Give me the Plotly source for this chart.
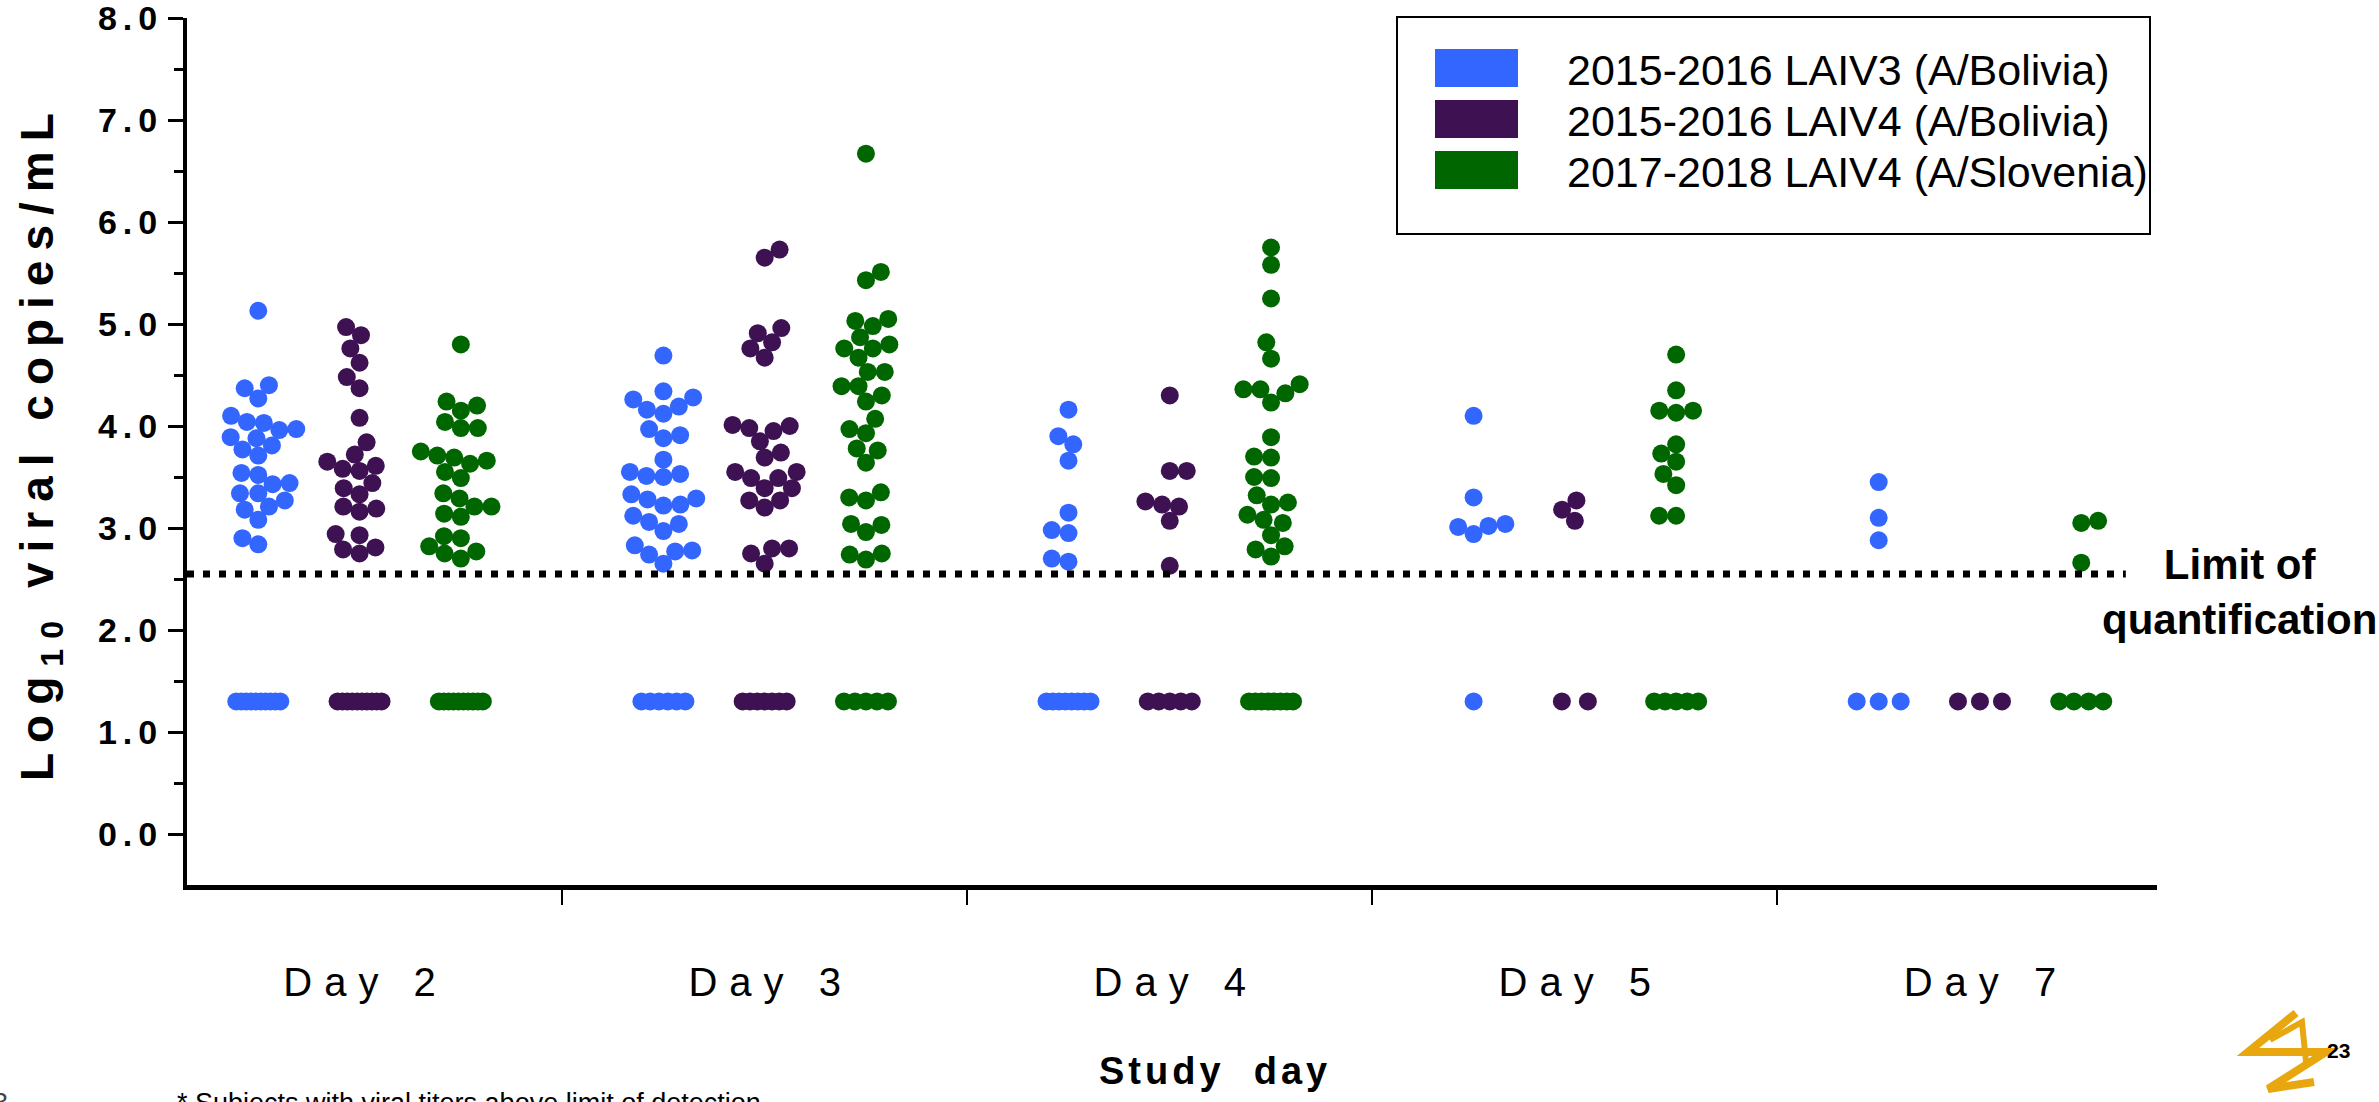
import math
import plotly.graph_objects as go

# ---------------------------------------------------------------------------
# Data: log10 viral copies/mL per subject, by study day and cohort
# ---------------------------------------------------------------------------
days = ["Day 2", "Day 3", "Day 4", "Day 5", "Day 7"]

series_names = [
    "2015-2016 LAIV3 (A/Bolivia)",
    "2015-2016 LAIV4 (A/Bolivia)",
    "2017-2018 LAIV4 (A/Slovenia)",
]
series_colors = ["#3366FF", "#3D1152", "#006600"]

# quantified titres (one list per study day)
laiv3_bolivia = [
    [5.13, 4.40, 4.37, 4.27, 4.10, 4.04, 3.97, 3.89, 3.81, 3.88, 3.96, 4.03, 3.77,
     3.71, 3.54, 3.52, 3.44, 3.43, 3.34, 3.34, 3.27, 3.21, 3.18, 3.08, 2.90, 2.84],
    [4.69, 4.34, 4.28, 4.26, 4.19, 4.16, 4.12, 3.97, 3.91, 3.88, 3.67, 3.55, 3.53,
     3.51, 3.50, 3.33, 3.29, 3.28, 3.23, 3.22, 3.12, 3.06, 3.04, 2.97, 2.83, 2.78,
     2.77, 2.74, 2.65],
    [4.16, 3.90, 3.82, 3.66, 3.15, 2.98, 2.95, 2.70, 2.67],
    [4.10, 3.30, 3.04, 3.02, 3.01, 2.94],
    [3.45, 3.10, 2.88],
]
laiv4_bolivia = [
    [4.97, 4.89, 4.76, 4.62, 4.48, 4.37, 4.08, 3.84, 3.72, 3.65, 3.58, 3.44, 3.56,
     3.61, 3.39, 3.33, 3.21, 3.16, 3.19, 2.93, 2.94, 2.79, 2.75, 2.81],
    [5.73, 5.65, 4.96, 4.91, 4.82, 4.76, 4.67, 4.01, 4.00, 3.98, 3.95, 3.85, 3.74,
     3.69, 3.55, 3.55, 3.49, 3.49, 3.39, 3.39, 3.27, 3.27, 3.20, 2.80, 2.80, 2.75,
     2.65],
    [4.30, 3.56, 3.56, 3.26, 3.23, 3.21, 3.07, 2.63],
    [3.27, 3.18, 3.07],
    [],
]
laiv4_slovenia = [
    [4.80, 4.24, 4.20, 4.15, 4.04, 3.98, 3.98, 3.75, 3.71, 3.69, 3.66, 3.63, 3.55,
     3.49, 3.34, 3.29, 3.21, 3.21, 3.14, 3.11, 2.92, 2.90, 2.82, 2.77, 2.75, 2.70],
    [6.67, 5.51, 5.43, 5.05, 5.03, 4.98, 4.87, 4.80, 4.76, 4.76, 4.67, 4.53, 4.53,
     4.39, 4.39, 4.30, 4.24, 4.07, 3.97, 3.93, 3.78, 3.76, 3.64, 3.35, 3.30, 3.27,
     3.04, 3.03, 2.96, 2.75, 2.74, 2.69],
    [5.75, 5.58, 5.25, 4.82, 4.66, 4.41, 4.36, 4.36, 4.32, 4.23, 3.89, 3.70, 3.69,
     3.50, 3.49, 3.32, 3.25, 3.23, 3.13, 3.08, 3.05, 2.93, 2.82, 2.79, 2.72],
    [4.70, 4.35, 4.15, 4.15, 4.13, 3.82, 3.73, 3.65, 3.53, 3.42, 3.12, 3.12],
    [3.07, 3.05, 2.66],
]

# subjects with no quantifiable virus, plotted at the imputed value
laiv3_bolivia_below = [10, 6, 8, 1, 3]
laiv4_bolivia_below = [10, 7, 5, 2, 3]
laiv4_slovenia_below = [10, 5, 8, 5, 4]

BELOW_VALUE = 1.3          # imputed log10 value for unquantifiable samples
LIMIT_OF_QUANT = 2.55      # log10 copies/mL

y_tick_values = [0, 1, 2, 3, 4, 5, 6, 7, 8]

detected = [laiv3_bolivia, laiv4_bolivia, laiv4_slovenia]
below = [laiv3_bolivia_below, laiv4_bolivia_below, laiv4_slovenia_below]

# ---------------------------------------------------------------------------
# Layout geometry
# ---------------------------------------------------------------------------
W, H = 2379, 1102
ML, MR, MT, MB = 187, 222, 18, 217
PW, PH = W - ML - MR, H - MT - MB
X_RANGE = [-0.426, 4.437]
Y_RANGE = [-0.5, 8.0]
PX_PER_X = PW / (X_RANGE[1] - X_RANGE[0])
PX_PER_Y = PH / (Y_RANGE[1] - Y_RANGE[0])
GROUP_OFFSETS = [-0.25, 0.0, 0.25]
DOT = 18            # marker diameter in px
SWARM_GAP = 17      # minimum centre distance inside a swarm, px
ROW_MAX_SPAN = 44   # widest spread of a row of identical values, px
ROW_MAX_STEP = 26


def paper_x(px):
    return (px - ML) / PW


def paper_y(py):
    return (H - MB - py) / PH


def swarm_offsets(values):
    """Greedy beeswarm: horizontal pixel offsets that keep dots apart."""
    offsets = [0.0] * len(values)
    placed = []
    flip = 1
    for i in sorted(range(len(values)), key=lambda k: values[k]):
        y = values[i] * PX_PER_Y
        blocked = []
        for xj, yj in placed:
            dy = abs(y - yj)
            if dy < SWARM_GAP:
                dx = math.sqrt(SWARM_GAP ** 2 - dy ** 2)
                blocked.append((xj - dx, xj + dx))
        cands = [0.0] + [a for a, _ in blocked] + [b for _, b in blocked]
        cands.sort(key=lambda c: (round(abs(c), 4), -flip * c))
        choice = cands[-1]
        for c in cands:
            if all(not (a + 1e-6 < c < b - 1e-6) for a, b in blocked):
                choice = c
                break
        offsets[i] = choice
        placed.append((choice, y))
        flip = -flip
    return offsets


def row_offsets(n):
    if n <= 1:
        return [0.0] * n
    step = min(ROW_MAX_STEP, ROW_MAX_SPAN / (n - 1))
    return [(k - (n - 1) / 2) * step for k in range(n)]


fig = go.Figure()

for s, name in enumerate(series_names):
    xs, ys = [], []
    for d, day in enumerate(days):
        centre = d + GROUP_OFFSETS[s]
        vals = detected[s][d]
        for v, off in zip(vals, swarm_offsets(vals)):
            xs.append(centre + off / PX_PER_X)
            ys.append(v)
        for off in row_offsets(below[s][d]):
            xs.append(centre + off / PX_PER_X)
            ys.append(BELOW_VALUE)
    fig.add_trace(go.Scatter(
        x=xs, y=ys, mode="markers", name=name, showlegend=False,
        marker=dict(size=DOT, color=series_colors[s], line=dict(width=0)),
        hoverinfo="y+name",
    ))

FONT = "Liberation Sans, Arial, sans-serif"


def spaced(text, px):
    """Letter-spaced text without trailing space after the final glyph."""
    return f'<span style="letter-spacing:{px}px">{text[:-1]}</span>{text[-1]}'


shapes = []
annotations = []

# limit of quantification
shapes.append(dict(type="line", xref="x", yref="y",
                   x0=X_RANGE[0], x1=4.36, y0=LIMIT_OF_QUANT, y1=LIMIT_OF_QUANT,
                   line=dict(color="black", width=7, dash="7px,9px"), layer="above"))

# y-axis title
annotations.append(dict(
    text=('<span style="letter-spacing:10px">Log<sub>10</sub> viral copies/m</span>L'),
    xref="paper", yref="paper", x=paper_x(40), y=paper_y(447),
    xanchor="center", yanchor="middle", textangle=-90, showarrow=False,
    font=dict(family=FONT, size=46, color="black", weight="bold"),
))
# x-axis title
annotations.append(dict(
    text="<b>" + spaced("Study  day", 4) + "</b>",
    xref="paper", yref="paper", x=paper_x(1213), y=paper_y(1071),
    xanchor="center", yanchor="middle", showarrow=False,
    font=dict(family=FONT, size=38, color="black"),
))
# limit label
annotations.append(dict(
    text="<b>Limit of<br>quantification</b>",
    xref="paper", yref="paper", x=paper_x(2239), y=paper_y(592),
    xanchor="center", yanchor="middle", showarrow=False, align="center",
    font=dict(family=FONT, size=42, color="black"),
))
# footnote
annotations.append(dict(
    text="* Subjects with viral titers above limit of detection",
    xref="paper", yref="paper", x=paper_x(175), y=paper_y(1086),
    xanchor="left", yanchor="top", showarrow=False,
    font=dict(family=FONT, size=27, color="black"),
))
annotations.append(dict(
    text="3", xref="paper", yref="paper", x=paper_x(10), y=paper_y(1086),
    xanchor="right", yanchor="top", showarrow=False,
    font=dict(family=FONT, size=27, color="#444444"),
))
# page number
annotations.append(dict(
    text="<b>23</b>", xref="paper", yref="paper", x=paper_x(2338), y=paper_y(1050),
    xanchor="center", yanchor="middle", showarrow=False,
    font=dict(family=FONT, size=21, color="black"),
))

# legend box
shapes.append(dict(type="rect", xref="paper", yref="paper",
                   x0=paper_x(1397), x1=paper_x(2150), y0=paper_y(234), y1=paper_y(17),
                   line=dict(color="black", width=2), fillcolor="rgba(0,0,0,0)",
                   layer="above"))
LEG_ROW0, LEG_DY = 68, 51
for s, name in enumerate(series_names):
    cy = LEG_ROW0 + s * LEG_DY
    shapes.append(dict(type="rect", xref="paper", yref="paper",
                       x0=paper_x(1435), x1=paper_x(1518),
                       y0=paper_y(cy + 19), y1=paper_y(cy - 19),
                       line=dict(width=0), fillcolor=series_colors[s], layer="above"))
    annotations.append(dict(
        text=name, xref="paper", yref="paper", x=paper_x(1565), y=paper_y(cy + 2),
        xanchor="left", yanchor="middle", showarrow=False,
        font=dict(family=FONT, size=43, color="black"),
    ))

# logo mark
logo_pts = [(2296, 1013), (2248, 1052), (2326, 1052), (2268, 1089), (2314, 1082)]
inner_pts = [(2270, 1040), (2302, 1022), (2306, 1062)]


def path_from(pts):
    return "M " + " L ".join(f"{paper_x(px):.5f},{paper_y(py):.5f}" for px, py in pts)


shapes.append(dict(type="path", xref="paper", yref="paper", path=path_from(logo_pts),
                   line=dict(color="#E8A70E", width=8)))
shapes.append(dict(type="path", xref="paper", yref="paper", path=path_from(inner_pts),
                   line=dict(color="#E8A70E", width=6)))

fig.update_layout(
    width=W, height=H, autosize=False,
    margin=dict(l=ML, r=MR, t=MT, b=MB, pad=0, autoexpand=False),
    paper_bgcolor="white", plot_bgcolor="white",
    showlegend=False,
    annotations=annotations, shapes=shapes,
    xaxis=dict(
        range=X_RANGE, showgrid=False, zeroline=False, automargin=False,
        showline=True, linecolor="black", linewidth=5,
        tickvals=list(range(len(days))),
        ticktext=[spaced(d, 12) for d in days],
        ticks="", ticklabelstandoff=58, ticklabeloverflow="allow",
        tickfont=dict(family=FONT, size=40, color="black"),
        minor=dict(tickvals=[0.5, 1.5, 2.5, 3.5], ticks="outside",
                   ticklen=15, tickwidth=2, tickcolor="black"),
    ),
    yaxis=dict(
        range=Y_RANGE, showgrid=False, zeroline=False, automargin=False,
        showline=True, linecolor="black", linewidth=4,
        tickvals=y_tick_values,
        ticktext=["<b>" + spaced(f"{v:.1f}", 6) + "</b>" for v in y_tick_values],
        ticks="outside", ticklen=15, tickwidth=3, tickcolor="black",
        ticklabelstandoff=4, ticklabeloverflow="allow",
        tickfont=dict(family=FONT, size=34, color="black"),
        minor=dict(tickvals=[v + 0.5 for v in y_tick_values[:-1]], ticks="outside",
                   ticklen=9, tickwidth=3, tickcolor="black"),
    ),
)

fig.write_html("out.html")
